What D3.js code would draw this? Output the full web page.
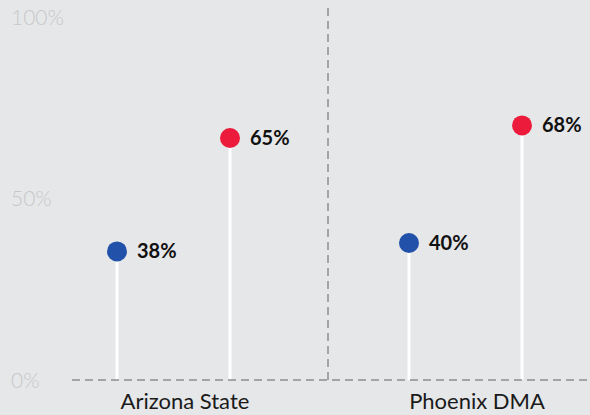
<!DOCTYPE html>
<html>
<head>
<meta charset="utf-8">
<script src="https://cdn.jsdelivr.net/npm/d3@7"></script>
<style>
  html, body { margin: 0; padding: 0; background: #e6e7e9; }
  svg { display: block; }
</style>
</head>
<body>
<div id="chart"></div>
<script>
// chart data
var categories = ["Arizona State", "Phoenix DMA"];
var series = ["blue", "red"];
var blueValues = [38, 40];
var redValues = [65, 68];
var tickValues = [0, 50, 100];
var tickLabels = ["0%", "50%", "100%"];
var colors = { blue: "#2251a9", red: "#ec1b3b" };

var width = 590, height = 415;

var svg = d3.select("#chart")
  .append("svg")
  .attr("width", width)
  .attr("height", height);

// category bands
var xScale = d3.scaleBand()
  .domain(categories)
  .range([38, 622]);

// position of each series inside a band
var xInner = d3.scalePoint()
  .domain(series)
  .range([79, 192]);

// axis label scale
var yAxisScale = d3.scaleLinear()
  .domain([0, 100])
  .range([380, 17]);

// marker scale (markers sit on their own scale in the original)
var yScale = d3.scaleLinear()
  .domain([0, 100])
  .range([411, -9]);

// y tick labels
var yAxis = d3.axisLeft(yAxisScale)
  .tickValues(tickValues)
  .tickSize(0)
  .tickFormat(function(d, i) { return tickLabels[i]; });

var yg = svg.append("g")
  .attr("transform", "translate(11,0)")
  .call(yAxis);
yg.select(".domain").remove();
yg.selectAll("text")
  .attr("text-anchor", "start")
  .attr("x", 0)
  .attr("dy", "0.35em")
  .style("font-family", "Lato, 'Open Sans', sans-serif")
  .style("font-weight", 300)
  .style("font-size", "21px")
  .style("fill", "#c6c7c9");

// vertical divider between the categories
svg.append("line")
  .attr("x1", xScale(categories[1]) - 2)
  .attr("x2", xScale(categories[1]) - 2)
  .attr("y1", 8)
  .attr("y2", yAxisScale(0))
  .style("stroke", "#8e8e8e")
  .style("stroke-width", 1.5)
  .style("stroke-dasharray", "8,5");

// stems
var points = [];
categories.forEach(function(c, i) {
  points.push({ cat: c, s: "blue", v: blueValues[i] });
  points.push({ cat: c, s: "red", v: redValues[i] });
});

svg.append("g").selectAll("line")
  .data(points)
  .join("line")
  .attr("x1", function(d) { return xScale(d.cat) + xInner(d.s); })
  .attr("x2", function(d) { return xScale(d.cat) + xInner(d.s); })
  .attr("y1", yAxisScale(0))
  .attr("y2", function(d) { return yScale(d.v); })
  .style("stroke", "#ffffff")
  .style("stroke-width", 3);

// zero line
svg.append("line")
  .attr("x1", 72)
  .attr("x2", width)
  .attr("y1", yAxisScale(0))
  .attr("y2", yAxisScale(0))
  .style("stroke", "#8e8e8e")
  .style("stroke-width", 1.5)
  .style("stroke-dasharray", "8,5");

// dots
svg.append("g").selectAll("circle")
  .data(points)
  .join("circle")
  .attr("cx", function(d) { return xScale(d.cat) + xInner(d.s); })
  .attr("cy", function(d) { return yScale(d.v); })
  .attr("r", 10)
  .style("fill", function(d) { return colors[d.s]; });

// value labels
svg.append("g").selectAll("text")
  .data(points)
  .join("text")
  .attr("x", function(d) { return xScale(d.cat) + xInner(d.s) + 20; })
  .attr("y", function(d) { return yScale(d.v); })
  .attr("dy", "0.35em")
  .style("font-family", "Lato, 'Open Sans', sans-serif")
  .style("font-weight", 700)
  .style("font-size", "20px")
  .style("fill", "#111")
  .text(function(d) { return d.v + "%"; });

// category labels
svg.append("g").selectAll("text")
  .data(categories)
  .join("text")
  .attr("x", function(d) { return xScale(d) + xScale.bandwidth() / 2 + 1; })
  .attr("y", 409)
  .attr("text-anchor", "middle")
  .style("font-family", "Lato, 'Open Sans', sans-serif")
  .style("font-size", "22px")
  .style("fill", "#1a1a1a")
  .text(function(d) { return d; });
</script>
</body>
</html>
